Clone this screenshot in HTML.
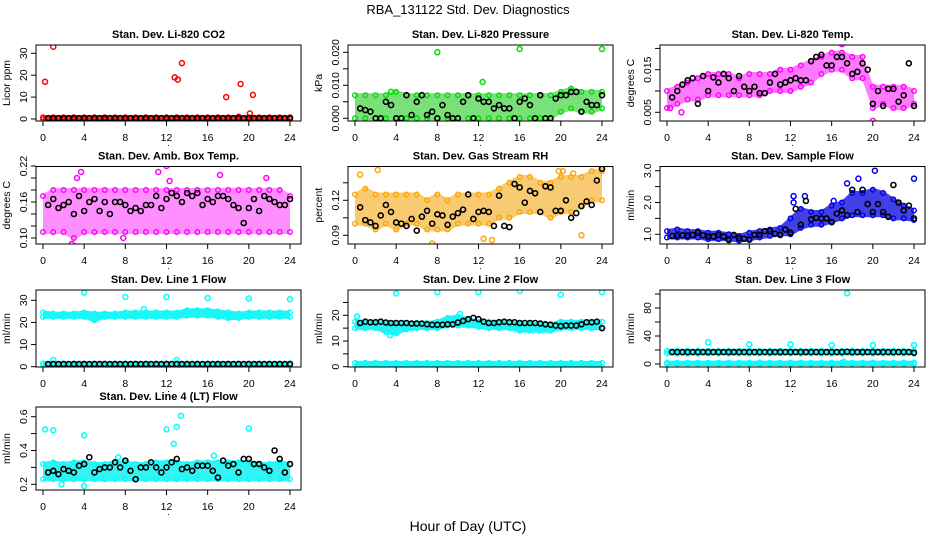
<!DOCTYPE html>
<html><head><meta charset="utf-8"><style>
body{margin:0;background:#fff}
svg{display:block;font-family:"Liberation Sans",sans-serif}
</style></head><body>
<svg id="chart" width="936" height="540" viewBox="0 0 936 540" xmlns="http://www.w3.org/2000/svg">
<rect width="936" height="540" fill="#fff"/>
<text x="468" y="14" text-anchor="middle" font-size="13">RBA_131122  Std. Dev. Diagnostics</text>
<text x="468" y="531" text-anchor="middle" font-size="14">Hour of Day (UTC)</text>
<g id="panels"></g>
</svg>
<script>
// ---- data ----
const xTicks = [0,4,8,12,16,20,24];
const titles = ["Stan. Dev. Li-820 CO2","Stan. Dev. Li-820 Pressure","Stan. Dev. Li-820 Temp.","Stan. Dev. Amb. Box Temp.","Stan. Dev. Gas Stream RH","Stan. Dev. Sample Flow","Stan. Dev. Line 1 Flow","Stan. Dev. Line 2 Flow","Stan. Dev. Line 3 Flow","Stan. Dev. Line 4 (LT) Flow"];
const yTitles = ["Licor ppm","kPa","degrees C","degrees C","percent","ml/min","ml/min","ml/min","ml/min","ml/min"];
const yTicks = [[0,10,20,30],[0,0.005,0.01,0.015,0.02],[0.005,0.01,0.015,0.02],[0.10,0.12,0.14,0.16,0.18,0.20,0.22],[0.09,0.105,0.12,0.135],[1.0,1.5,2.0,2.5,3.0],[0,10,20,30],[0,5,10,15,20,25],[0,20,40,60,80,100],[0.2,0.3,0.4,0.5,0.6]];
const yLabels = [["0","10","20","30"],["0.000","","0.010","","0.020"],["0.005","","0.015",""],["0.10","","","0.16","","","0.22"],["0.09","","0.12",""],["1.0","","2.0","","3.0"],["0","10","20","30"],["0","","10","","20",""],["0","","40","","80",""],["0.2","","0.4","","0.6"]];

// hourly bands (x = 0..24), lo/hi
const co2Lo = [0,0,0,0,0,0,0,0,0,0,0,0,0,0,0,0,0,0,0,0,0,0,0,0,0];
const co2Hi = [0.8,0.8,0.8,0.8,0.8,0.8,0.8,0.8,0.8,0.8,0.8,0.8,0.8,0.8,0.8,0.8,0.8,0.8,0.8,0.8,0.8,0.8,0.8,0.8,0.8];
const presLo = [0,0,0,0,0,0,0,0,0,0,0,0,0,0,0,0,0,0,0,0,0.002,0.003,0.002,0.002,0.003];
const presHi = [0.007,0.007,0.007,0.007,0.008,0.007,0.007,0.007,0.007,0.007,0.007,0.007,0.007,0.007,0.007,0.007,0.007,0.007,0.007,0.007,0.008,0.009,0.008,0.008,0.008];
const tempLo = [0.006,0.007,0.008,0.008,0.009,0.009,0.009,0.009,0.009,0.009,0.010,0.010,0.010,0.011,0.012,0.014,0.015,0.015,0.013,0.013,0.006,0.007,0.006,0.006,0.007];
const tempHi = [0.010,0.011,0.012,0.013,0.014,0.014,0.014,0.013,0.014,0.014,0.014,0.015,0.015,0.016,0.017,0.018,0.019,0.019,0.018,0.018,0.011,0.011,0.011,0.011,0.010];
const ambLo = [0.11,0.11,0.11,0.10,0.11,0.11,0.11,0.11,0.11,0.11,0.11,0.11,0.11,0.11,0.11,0.11,0.11,0.11,0.11,0.11,0.11,0.11,0.11,0.11,0.11];
const ambHi = [0.17,0.18,0.18,0.18,0.18,0.18,0.18,0.18,0.18,0.18,0.18,0.18,0.18,0.18,0.18,0.18,0.18,0.18,0.18,0.18,0.18,0.18,0.18,0.18,0.17];
const rhLo = [0.100,0.100,0.095,0.100,0.095,0.100,0.100,0.095,0.095,0.095,0.100,0.100,0.100,0.100,0.105,0.105,0.110,0.110,0.110,0.105,0.110,0.110,0.115,0.120,0.120];
const rhHi = [0.125,0.130,0.125,0.125,0.125,0.125,0.125,0.120,0.125,0.120,0.125,0.125,0.125,0.125,0.130,0.135,0.140,0.140,0.135,0.135,0.140,0.140,0.140,0.145,0.145];
const flowLo = [0.9,0.9,0.9,0.9,0.85,0.85,0.85,0.8,0.85,0.9,0.95,1.0,1.0,1.2,1.3,1.3,1.4,1.5,1.6,1.6,1.6,1.6,1.5,1.5,1.45];
const flowHi = [1.1,1.15,1.1,1.1,1.05,1.05,1.0,0.95,1.05,1.1,1.15,1.2,1.5,1.8,1.7,1.7,1.9,2.0,2.3,2.3,2.4,2.3,2.1,1.9,1.75];
const l1Lo = [22.5,22.5,22.5,22.5,22.5,21,22.5,22.5,22.5,22.5,22.5,22.5,22.5,22.5,23,23,23,22.5,22,22,22.5,22.5,22.5,22.5,22.5];
const l1Hi = [24.5,24,24,24,24.5,24,24,24,24.5,24.5,24.5,24.5,24.5,24.5,25.5,25.5,25.5,25,24.5,24,24.5,24.5,24.5,24.5,24.5];
const l1bLo = [0.5,0.5,0.5,0.5,0.5,0.5,0.5,0.5,0.5,0.5,0.5,0.5,0.5,0.5,0.5,0.5,0.5,0.5,0.5,0.5,0.5,0.5,0.5,0.5,0.5];
const l1bHi = [1.5,1.5,1.5,1.5,1.5,1.5,1.5,1.5,1.5,1.5,1.5,1.5,1.5,1.5,1.5,1.5,1.5,1.5,1.5,1.5,1.5,1.5,1.5,1.5,1.5];
const l2Lo = [15,15,15,13.5,13,14.5,15,15,15,16,16,16,15.5,15,15,15,14,14,14,14,15,15,15,15,15];
const l2Hi = [17.5,17.5,17.5,17,17,17,17,17,17.5,19,19.5,18.5,17.5,17.5,17.5,17.5,16.5,16.5,16.5,16.5,17.5,17.5,17.5,17.5,17.5];
const l2bLo = [0,0,0,0,0,0,0,0,0,0,0,0,0,0,0,0,0,0,0,0,0,0,0,0,0];
const l2bHi = [1.5,1.5,1.5,1.5,1.5,1.5,1.5,1.5,1.5,1.5,1.5,1.5,1.5,1.5,1.5,1.5,1.5,1.5,1.5,1.5,1.5,1.5,1.5,1.5,1.5];
const l3Lo = [15,15,15,15,15,15,15,15,15,15,15,15,15,15,15,15,15,15,15,15,15,15,15,15,15];
const l3Hi = [19,19,19,19,19,19,19,19,19,19,19,19,19,19,19,19,19,19,19,19,19,19,19,19,19];
const l3bLo = [0,0,0,0,0,0,0,0,0,0,0,0,0,0,0,0,0,0,0,0,0,0,0,0,0];
const l3bHi = [2,2,2,2,2,2,2,2,2,2,2,2,2,2,2,2,2,2,2,2,2,2,2,2,2];
const l4Lo = [0.23,0.23,0.23,0.23,0.23,0.23,0.23,0.23,0.23,0.23,0.23,0.23,0.23,0.23,0.23,0.23,0.23,0.23,0.23,0.23,0.23,0.23,0.23,0.23,0.23];
const l4Hi = [0.32,0.33,0.32,0.33,0.33,0.32,0.32,0.33,0.33,0.32,0.32,0.33,0.33,0.33,0.32,0.33,0.33,0.33,0.33,0.33,0.33,0.32,0.32,0.33,0.32];

// black points every half hour (x = 0.5..24)
const co2Blk = [0.4,0.4,0.4,0.4,0.4,0.4,0.4,0.4,0.4,0.4,0.4,0.4,0.4,0.4,0.4,0.4,0.4,0.4,0.4,0.4,0.4,0.4,0.4,0.4,0.4,0.4,0.4,0.4,0.4,0.4,0.4,0.4,0.4,0.4,0.4,0.4,0.4,0.4,0.4,0.4,0.4,0.4,0.4,0.4,0.4,0.4,0.4,0.4];
const presBlk = [0.003,0.0025,0.002,0.000,0.000,0.005,0.004,0.000,0.000,0.007,0.001,0.005,0.007,0.001,0.002,0.000,0.004,0.001,0.000,0.000,0.005,0.007,0.000,0.006,0.005,0.005,0.003,0.004,0.003,0.003,0.000,0.005,0.006,0.004,0.000,0.007,0.000,0.000,0.006,0.007,0.007,0.008,0.008,0.002,0.005,0.004,0.004,0.007];
const tempBlk = [0.0085,0.010,0.0115,0.0125,0.013,0.007,0.0135,0.010,0.0132,0.012,0.014,0.013,0.010,0.0135,0.011,0.010,0.011,0.0095,0.0095,0.012,0.014,0.0115,0.012,0.0125,0.013,0.0125,0.0125,0.017,0.018,0.0185,0.016,0.016,0.018,0.018,0.0165,0.014,0.0145,0.0165,0.015,0.007,0.010,0.0065,0.0105,0.0105,0.0075,0.009,0.0165,0.0065];
const ambBlk = [0.155,0.165,0.15,0.155,0.16,0.14,0.17,0.145,0.16,0.165,0.145,0.16,0.14,0.16,0.16,0.155,0.145,0.15,0.145,0.155,0.155,0.17,0.15,0.165,0.175,0.17,0.16,0.175,0.17,0.175,0.155,0.165,0.16,0.17,0.17,0.165,0.155,0.15,0.125,0.15,0.165,0.145,0.17,0.165,0.16,0.155,0.155,0.165];
const rhBlk = [0.114,0.103,0.101,0.098,0.107,0.116,0.110,0.101,0.100,0.098,0.104,0.094,0.106,0.111,0.100,0.108,0.107,0.099,0.106,0.109,0.112,0.125,0.104,0.110,0.111,0.110,0.098,0.124,0.098,0.097,0.134,0.131,0.118,0.128,0.126,0.110,0.132,0.131,0.111,0.111,0.120,0.105,0.109,0.115,0.119,0.116,0.137,0.147];
const flowBlk = [0.95,0.97,0.97,0.96,0.98,1.05,0.97,0.93,0.93,0.98,0.93,0.82,0.98,0.88,0.86,0.83,0.98,0.98,1.1,1.1,1.02,0.98,1.15,1.05,1.8,1.3,2.05,1.47,1.52,1.5,1.5,1.38,1.65,1.75,1.6,2.4,1.7,2.4,1.95,1.7,1.95,1.7,1.55,2.55,2.0,1.75,1.9,1.5];
const l1Blk = [1.2,1.2,1.2,1.2,1.2,1.2,1.2,1.2,1.2,1.2,1.2,1.2,1.2,1.2,1.2,1.2,1.2,1.2,1.2,1.2,1.2,1.2,1.2,1.2,1.2,1.2,1.2,1.2,1.2,1.2,1.2,1.2,1.2,1.2,1.2,1.2,1.2,1.2,1.2,1.2,1.2,1.2,1.2,1.2,1.2,1.2,1.2,1.2];
const l2Blk = [17,17.5,17.3,17.3,17.5,17.2,17,17,17,17,16.8,16.8,16.8,16.5,16.3,16.3,16.3,16.5,16.5,17.2,17.8,18.5,19,18.5,17.5,17,17,17.3,17.5,17.3,17.3,17,17,17,17,16.8,16.5,16.3,16,15.8,16,16,16,16.5,17.3,17.3,17.5,15];
const l3Blk = [17,17,17,17,17,17,17,17,17,17,17,17,17,17,17,17,17,17,17,17,17,17,17,17,17,17,17,17,17,17,17,17,17,17,17.5,17,17,17,17,17,17,17,17,17,17,17,17,16];
const l4Blk = [0.27,0.28,0.26,0.29,0.28,0.27,0.31,0.32,0.36,0.27,0.29,0.30,0.30,0.33,0.30,0.34,0.28,0.23,0.30,0.30,0.33,0.30,0.27,0.30,0.33,0.35,0.29,0.30,0.28,0.31,0.31,0.31,0.28,0.24,0.34,0.31,0.32,0.27,0.35,0.35,0.32,0.32,0.30,0.28,0.40,0.35,0.27,0.32];

// outliers: x hours, y values
const co2OutX = [0.2,1,12.8,13.1,13.5,17.8,19.2,20.1,20.4,19];
const co2OutY = [17,33,19,18,25.5,10,16,2.5,11,1];
const presOutX = [8,12.4,16,24,3.5];
const presOutY = [0.020,0.011,0.021,0.021,0.008];
const tempOutX = [20,17,1.4,0.3];
const tempOutY = [0.003,0.021,0.005,0.006];
const ambOutX = [3.7,11.2,12,17.2,2.8,7.8,21.7,3.3,12.3];
const ambOutY = [0.21,0.21,0.22,0.205,0.09,0.10,0.20,0.20,0.195];
const rhOutX = [2.2,0.5,7.5,12.5,13.3,19.8,20.2,21.2,22];
const rhOutY = [0.146,0.142,0.083,0.087,0.086,0.145,0.145,0.143,0.090];
const flowOutX = [12.3,13.4,17.5,18.6,20.2,24,16.2,12.3];
const flowOutY = [2.2,2.2,2.6,2.75,3.0,2.75,2.05,2.0];
const l1OutX = [4,8,12,16,20,24,1,13,9.8];
const l1OutY = [33.5,31.5,31.5,31,30.8,30.5,3,3,26];
const l2OutX = [4,8,12,16,20,24,0.2,3.4,10.2];
const l2OutY = [28.5,29,29,29.5,28,29,19.5,12.3,20.5];
const l3OutX = [4,8,12,16,17.5,20,24,17.2];
const l3OutY = [31,28,28,27,101,27,27,3];
const l4OutX = [0.2,1,4,12,12.7,13,13.4,20,1.8,4,16.6,7.3];
const l4OutY = [0.525,0.52,0.49,0.525,0.44,0.54,0.605,0.53,0.2,0.19,0.37,0.36];

// ---- layout (not data) ----
const panelColors = ["#ff0000","#00dd00","#ff00ff","#ff00ff","#ffa500","#0000ee","#00ffff","#00ffff","#00ffff","#00ffff"];
const bandFills = ["#ff0000","#22cc22","#ff22ff","#ff33ff","#f2a000","#1010e0","#00f0f0","#00f0f0","#00f0f0","#00f0f0"];
const bandOpacity = [0.85,0.6,0.6,0.55,0.55,0.8,0.85,0.85,0.85,0.8];
const rowTop = [45,166.5,290,407], rowBot = [121,244,367,490];
// calibration: [v1, px1, v2, px2]
const cal = [[0,119,30,53.3],[0,118.3,0.02,52.3],[0.005,112.3,0.015,69.7],[0.10,238,0.22,166],[0.09,235.3,0.12,200.3],[1.0,234.3,3.0,170.7],[0,366.7,30,300.3],[0,366.7,20,315.3],[0,364,80,308],[0.2,484.3,0.6,416.7]];

const bands = [[[co2Lo,co2Hi]],[[presLo,presHi]],[[tempLo,tempHi]],[[ambLo,ambHi]],[[rhLo,rhHi]],[[flowLo,flowHi]],[[l1Lo,l1Hi],[l1bLo,l1bHi]],[[l2Lo,l2Hi],[l2bLo,l2bHi]],[[l3Lo,l3Hi],[l3bLo,l3bHi]],[[l4Lo,l4Hi]]];
const blacks = [co2Blk,presBlk,tempBlk,ambBlk,rhBlk,flowBlk,l1Blk,l2Blk,l3Blk,l4Blk];
const outs = [[co2OutX,co2OutY],[presOutX,presOutY],[tempOutX,tempOutY],[ambOutX,ambOutY],[rhOutX,rhOutY],[flowOutX,flowOutY],[l1OutX,l1OutY],[l2OutX,l2OutY],[l3OutX,l3OutY],[l4OutX,l4OutY]];

const NS = "http://www.w3.org/2000/svg";
const root = document.getElementById('panels');
function mk(tag, attrs, parent){const e=document.createElementNS(NS,tag);for(const k in attrs)e.setAttribute(k,attrs[k]);parent.appendChild(e);return e;}

for(let p=0;p<10;p++){
  const col=p%3,row=Math.floor(p/3);
  const x0=43+312*col, x24=290+312*col;
  const xs=h=>x0+(x24-x0)*h/24;
  const c=cal[p];
  const ys=v=>c[1]+(v-c[0])*(c[3]-c[1])/(c[2]-c[0]);
  const L=x0-7,R=x24+11,T=rowTop[row],B=rowBot[row];
  const g=mk('g',{},root);
  
  
  const clip=mk('clipPath',{id:'cp'+p},g);
  mk('rect',{x:L,y:T,width:R-L,height:B-T},clip);
  const plot=mk('g',{'clip-path':'url(#cp'+p+')'},g);
  
  
  bands[p].forEach((bd,bi)=>{
    const lo=bd[0],hi=bd[1];
    let pts=[];
    for(let i=0;i<hi.length;i++)pts.push(xs(i)+','+(ys(hi[i])-2));
    for(let i=lo.length-1;i>=0;i--)pts.push(xs(i)+','+(ys(lo[i])+2));
    const poly=mk('polygon',{points:pts.join(' '),fill:bandFills[p],'fill-opacity':bandOpacity[p]},plot);
    
    
    for(let i=0;i<hi.length;i++){
      [hi[i],lo[i]].forEach(v=>{
        const ci=mk('circle',{cx:xs(i),cy:ys(v),r:2.3,fill:'none',stroke:panelColors[p],'stroke-width':1.4},plot);
        
        
      });
    }
  });
  const ox=outs[p][0],oy=outs[p][1];
  for(let i=0;i<ox.length;i++){
    const ci=mk('circle',{cx:xs(ox[i]),cy:ys(oy[i]),r:2.5,fill:'none',stroke:panelColors[p],'stroke-width':1.5},plot);
    
    
  }
  const bk=blacks[p];
  for(let i=0;i<bk.length;i++){
    const ci=mk('circle',{cx:xs(0.5*(i+1)),cy:ys(bk[i]),r:2.5,fill:'none',stroke:'#000','stroke-width':1.6},plot);
    
    
  }
  const box=mk('rect',{x:L,y:T,width:R-L,height:B-T,fill:'none',stroke:'#000','stroke-width':1},g);
  
  
  const xa=mk('g',{},g);
  
  
  mk('line',{x1:xs(0),x2:xs(24),y1:B,y2:B,stroke:'#000'},xa);
  xTicks.forEach(t=>{
    mk('line',{x1:xs(t),x2:xs(t),y1:B,y2:B+5,stroke:'#000'},xa);
    const tx=mk('text',{x:xs(t),y:B+20,'text-anchor':'middle','font-size':10.5},xa);
    
    
    tx.textContent=t;
  });
  const dot=mk('text',{x:(L+R)/2,y:B+25,'text-anchor':'middle','font-size':9},xa);
  dot.textContent='.';
  const ya=mk('g',{},g);
  
  
  const yt=yTicks[p],yl=yLabels[p];
  mk('line',{x1:L,x2:L,y1:ys(yt[0]),y2:ys(yt[yt.length-1]),stroke:'#000'},ya);
  yt.forEach((t,i)=>{
    const yy=ys(t);
    mk('line',{x1:L-5,x2:L,y1:yy,y2:yy,stroke:'#000'},ya);
    if(yl[i]){
      const tx=mk('text',{x:L-9,y:yy,'text-anchor':'middle','font-size':10.5,transform:'rotate(-90 '+(L-9)+' '+yy+')'},ya);
      
      
      tx.textContent=yl[i];
    }
  });
  const yT=mk('text',{x:L-26,y:(T+B)/2,'text-anchor':'middle','font-size':10.5,transform:'rotate(-90 '+(L-26)+' '+((T+B)/2)+')'},ya);
  
  
  yT.textContent=yTitles[p];
  const ti=mk('text',{x:(L+R)/2,y:T-7,'text-anchor':'middle','font-size':11,'font-weight':'bold'},g);
  
  
  ti.textContent=titles[p];
}
</script>
</body></html>
